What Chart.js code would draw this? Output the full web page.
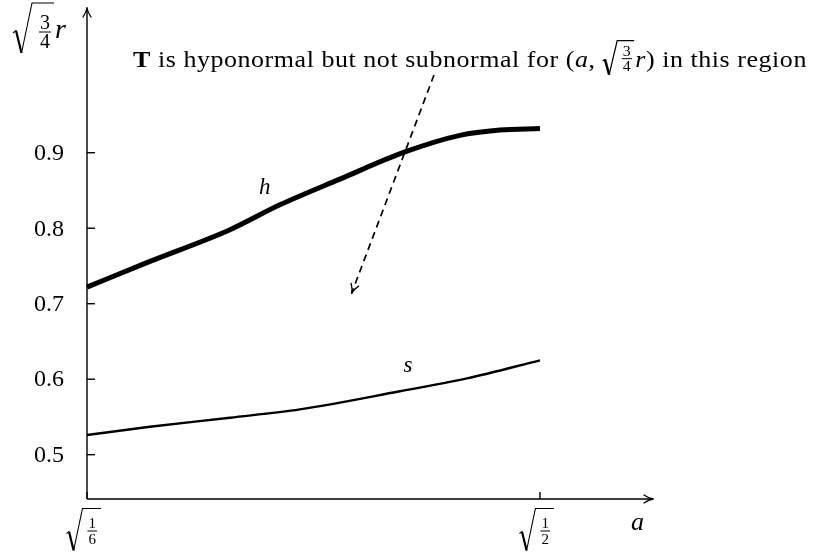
<!DOCTYPE html>
<html>
<head>
<meta charset="utf-8">
<script src="https://cdn.jsdelivr.net/npm/chart.js@4.4.0/dist/chart.umd.min.js"></script>
<style>
  html, body { margin: 0; padding: 0; background: #fff; }
  canvas { display: block; }
</style>
</head>
<body>
<canvas id="region" width="817" height="554"></canvas>
<script>
const A_MIN = Math.sqrt(1 / 6);
const A_MAX = Math.sqrt(1 / 2);
const A_END = 0.7817;          // end of the a-axis arrow
const R_MIN = 0.4413;          // where the a-axis crosses
const R_END = 1.0917;          // end of the r-axis arrow

// upper boundary h and lower boundary s, sampled along a
const hA = [A_MIN, 0.4498, 0.5026, 0.5355, 0.5751, 0.6180, 0.6543, 0.6807, A_MAX];
const hR = [0.722, 0.756, 0.798, 0.831, 0.865, 0.901, 0.923, 0.930, 0.932];
const sA = [A_MIN, 0.4498, 0.5026, 0.5487, 0.6147, 0.6589, A_MAX];
const sR = [0.526, 0.537, 0.549, 0.560, 0.584, 0.601, 0.625];

// dashed pointer from the caption into the region
const arrowA = [0.6372, 0.5829];
const arrowR = [1.003, 0.714];

const yTicks = [0.5, 0.6, 0.7, 0.8, 0.9];
const yTickLabels = ['0.5', '0.6', '0.7', '0.8', '0.9'];
const xTicks = [A_MIN, A_MAX];
const xTickFracs = [['1', '6'], ['1', '2']];

const SERIF = '"Liberation Serif", "DejaVu Serif", serif';
const pts = (xs, ys) => xs.map((x, i) => ({ x, y: ys[i] }));

// LaTeX-ish open arrow tip
function arrowTip(ctx, tx, ty, ang, len = 9, half = 4) {
  const dx = Math.cos(ang), dy = Math.sin(ang);
  const px = -dy, py = dx;
  ctx.save();
  ctx.lineWidth = 1.3;
  ctx.lineCap = 'round';
  for (const s of [-1, 1]) {
    ctx.beginPath();
    ctx.moveTo(tx - len * dx + s * half * px, ty - len * dy + s * half * py);
    ctx.quadraticCurveTo(tx - 0.45 * len * dx + s * 0.6 * px, ty - 0.45 * len * dy + s * 0.6 * py, tx, ty);
    ctx.stroke();
  }
  ctx.restore();
}

// radical sign over a small fraction; returns the right end of the overline
function sqrtFrac(ctx, left, top, h, num, den, fs, barY, padL = 5, padR = 4) {
  ctx.save();
  ctx.letterSpacing = '0px';
  ctx.font = `${fs}px ${SERIF}`;
  const fw = Math.max(ctx.measureText(num).width, ctx.measureText(den).width) + 2;
  const rootX = left + 0.38 * h;
  const fx = rootX + padL;
  const end = fx + fw + padR;
  ctx.lineJoin = 'miter';
  ctx.lineWidth = 1.1;
  ctx.beginPath();
  ctx.moveTo(left, top + 0.6 * h);
  ctx.lineTo(left + 0.06 * h, top + 0.55 * h);
  ctx.stroke();
  ctx.lineWidth = 2.2;
  ctx.beginPath();
  ctx.moveTo(left + 0.06 * h, top + 0.55 * h);
  ctx.lineTo(left + 0.17 * h, top + h);
  ctx.stroke();
  ctx.lineWidth = 1.1;
  ctx.beginPath();
  ctx.moveTo(left + 0.17 * h, top + h);
  ctx.lineTo(rootX, top);
  ctx.lineTo(end, top);
  ctx.stroke();
  // fraction
  ctx.lineWidth = 1;
  ctx.beginPath();
  ctx.moveTo(fx, barY);
  ctx.lineTo(fx + fw, barY);
  ctx.stroke();
  ctx.textAlign = 'center';
  ctx.textBaseline = 'alphabetic';
  ctx.fillText(num, fx + fw / 2, barY - 3);
  ctx.fillText(den, fx + fw / 2, barY + 3 + fs * 0.66);
  ctx.restore();
  return end;
}

const axesPlugin = {
  id: 'axes',
  beforeDatasetsDraw(chart) {
    const { ctx, scales: { x, y } } = chart;
    const x0 = x.getPixelForValue(A_MIN), y0 = y.getPixelForValue(R_MIN);
    const x1 = x.getPixelForValue(A_END), y1 = y.getPixelForValue(R_END);
    ctx.save();
    ctx.strokeStyle = '#000';
    ctx.fillStyle = '#000';
    ctx.lineWidth = 1.4;
    ctx.beginPath();
    ctx.moveTo(x0, y0); ctx.lineTo(x1 - 1, y0);
    ctx.moveTo(x0, y0); ctx.lineTo(x0, y1 + 1);
    ctx.stroke();
    arrowTip(ctx, x1, y0, 0);
    arrowTip(ctx, x0, y1, -Math.PI / 2);

    // r ticks point into the plot
    ctx.font = `24px ${SERIF}`;
    ctx.textAlign = 'right';
    ctx.textBaseline = 'middle';
    yTicks.forEach((v, i) => {
      const py = y.getPixelForValue(v);
      ctx.beginPath();
      ctx.moveTo(x0, py); ctx.lineTo(x0 + 8, py);
      ctx.stroke();
      ctx.fillText(yTickLabels[i], x0 - 23, py + 1);
    });
    xTicks.forEach((v, i) => {
      const px = x.getPixelForValue(v);
      ctx.beginPath();
      ctx.moveTo(px, y0); ctx.lineTo(px, y0 - 7);
      ctx.stroke();
      sqrtFrac(ctx, px - 20.5, y0 + 9.5, 42, xTickFracs[i][0], xTickFracs[i][1], 15, y0 + 32, 5, 4);
    });

    // axis names
    ctx.textAlign = 'left';
    ctx.textBaseline = 'alphabetic';
    ctx.font = `italic 26px ${SERIF}`;
    ctx.fillText('a', x1 - 22, y0 + 31);
    const e = sqrtFrac(ctx, 13, 3, 50, '3', '4', 20, 32, 7, 3);
    ctx.font = `italic 28px ${SERIF}`;
    ctx.fillText('r', e + 1, 38);
    ctx.restore();
  },
  afterDatasetsDraw(chart) {
    const { ctx, scales: { x, y } } = chart;
    ctx.save();
    ctx.fillStyle = '#000';
    ctx.strokeStyle = '#000';

    // pointer tip
    const ax = arrowA.map(v => x.getPixelForValue(v));
    const ay = arrowR.map(v => y.getPixelForValue(v));
    arrowTip(ctx, ax[1], ay[1], Math.atan2(ay[1] - ay[0], ax[1] - ax[0]));

    // curve names
    ctx.font = `italic 23px ${SERIF}`;
    ctx.textAlign = 'center';
    ctx.textBaseline = 'middle';
    ctx.fillText('h', x.getPixelForValue(0.5256), y.getPixelForValue(0.853));
    ctx.fillText('s', x.getPixelForValue(0.620), y.getPixelForValue(0.6175));

    // caption, widened to run from a = 0.4386 to 0.8839
    const runs = [
      { t: 'T', f: `bold 23px ${SERIF}` },
      { t: ' is hyponormal but not subnormal for (', f: `23px ${SERIF}` },
      { t: 'a', f: `italic 23px ${SERIF}` },
      { t: ', ', f: `23px ${SERIF}` },
      { root: ['3', '4'] },
      { t: 'r', f: `italic 23px ${SERIF}` },
      { t: ') in this region', f: `23px ${SERIF}` }
    ];
    const startX = x.getPixelForValue(0.4386);
    const endX = x.getPixelForValue(0.8839);
    const rootW = 30;
    ctx.textAlign = 'left';
    ctx.textBaseline = 'alphabetic';
    let natural = rootW, chars = 0;
    for (const r of runs) {
      if (r.root) continue;
      ctx.font = r.f;
      natural += ctx.measureText(r.t).width;
      chars += r.t.length;
    }
    const target = endX - startX;
    const sx = Math.min(1.13, target / natural);
    const spacing = Math.max(0, (target / sx - natural) / chars);
    ctx.translate(startX, 0);
    ctx.scale(sx, 1);
    ctx.letterSpacing = spacing.toFixed(2) + 'px';
    let cx = 0;
    const base = y.getPixelForValue(1.014);
    for (const r of runs) {
      if (r.root) {
        cx = sqrtFrac(ctx, cx, base - 26, 34, r.root[0], r.root[1], 14, base - 8, 4, 2) + 1;
      } else {
        ctx.font = r.f;
        ctx.fillText(r.t, cx, base);
        cx += ctx.measureText(r.t).width;
      }
    }
    ctx.restore();
  }
};

new Chart(document.getElementById('region'), {
  type: 'line',
  data: {
    datasets: [
      {
        data: pts(hA, hR),
        borderColor: '#000',
        borderWidth: 5,
        pointRadius: 0,
        cubicInterpolationMode: 'monotone',
        clip: false
      },
      {
        data: pts(sA, sR),
        borderColor: '#000',
        borderWidth: 2.4,
        pointRadius: 0,
        cubicInterpolationMode: 'monotone',
        clip: false
      },
      {
        data: pts(arrowA, arrowR),
        borderColor: '#000',
        borderWidth: 1.7,
        borderDash: [7, 5],
        pointRadius: 0,
        tension: 0,
        clip: false
      }
    ]
  },
  options: {
    responsive: false,
    animation: false,
    events: [],
    layout: { padding: { left: 87, right: 164, top: 8, bottom: 55 } },
    plugins: { legend: { display: false }, tooltip: { enabled: false } },
    scales: {
      x: { type: 'linear', min: A_MIN, max: A_END, display: false },
      y: { type: 'linear', min: R_MIN, max: R_END, display: false }
    }
  },
  plugins: [axesPlugin]
});
</script>
</body>
</html>
